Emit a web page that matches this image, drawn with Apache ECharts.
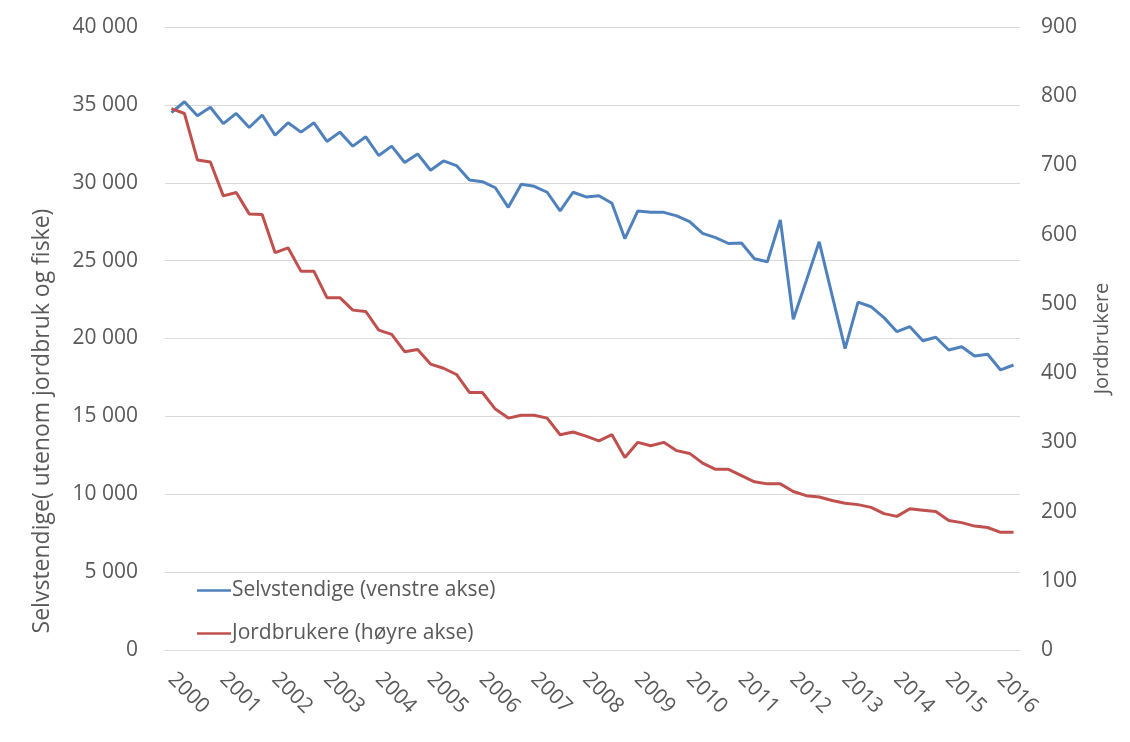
<!DOCTYPE html>
<html>
<head>
<meta charset="utf-8">
<style>
  html, body { margin: 0; padding: 0; background: #fff; }
  #chart { width: 1130px; height: 742px; }
</style>
<script src="https://cdn.jsdelivr.net/npm/echarts@6/dist/echarts.min.js"></script>
</head>
<body>
<div id="chart"></div>
<script>
// kvartalsvis 2000K1 - 2016K2
var years = [2000, 2001, 2002, 2003, 2004, 2005, 2006, 2007, 2008,
  2009, 2010, 2011, 2012, 2013, 2014, 2015, 2016];
var quarters = ["K1", "K2", "K3", "K4"];
var lastQuarter = "2016K2";

// Selvstendige (venstre akse)
var selvstendige = [
  34500, 35200, 34300, 34850, 33800, 34450, 33550, 34350, 33050, 33850,
  33250, 33850, 32650, 33250, 32350, 32950, 31750, 32350, 31300, 31850,
  30800, 31400, 31100, 30180, 30070, 29680, 28420, 29900, 29770, 29390,
  28190, 29390, 29090, 29170, 28680, 26410, 28190, 28100, 28100, 27870,
  27500, 26750, 26480, 26100, 26130, 25120, 24930, 27610, 21230, 23700,
  26210, 22750, 19350, 22340, 22040, 21340, 20440, 20760, 19860, 20080,
  19260, 19470, 18880, 18990, 17980, 18300
];

// Jordbrukere (høyre akse)
var jordbrukere = [
  782, 775, 708, 705, 656, 661, 630, 629, 574, 581,
  547, 547, 509, 509, 491, 489, 462, 456, 431, 434,
  413, 407, 398, 372, 372, 348, 335, 339, 339, 335,
  311, 315, 309, 302, 311, 278, 300, 295, 300, 288,
  284, 270, 261, 261, 252, 243, 240, 240, 229, 223,
  221, 216, 212, 210, 206, 197, 193, 204, 202, 200,
  187, 184, 179, 177, 170, 170
];

var categories = [];
years.forEach(function (y) {
  quarters.forEach(function (q) {
    if (categories.length && categories[categories.length - 1] === lastQuarter) return;
    categories.push(y + q);
  });
});

var textColor = "#595959";
var fontFamily = "'Open Sans', sans-serif";

var chart = echarts.init(document.getElementById("chart"));
chart.setOption({
  backgroundColor: "#ffffff",
  animation: false,
  textStyle: { fontFamily: fontFamily },
  grid: {
    left: 165,
    right: 110,
    top: 27,
    bottom: 92
  },
  legend: {
    orient: "vertical",
    left: 192,
    top: 575,
    itemWidth: 34,
    itemHeight: 14,
    itemGap: 22,
    icon: "path://M0,6 L34,6 L34,8.5 L0,8.5 Z",
    data: ["Selvstendige (venstre akse)", "Jordbrukere (høyre akse)"],
    textStyle: { color: textColor, fontSize: 21, padding: [0, 0, 0, -4] }
  },
  xAxis: {
    type: "category",
    data: categories,
    axisLine: { show: true, lineStyle: { color: "#d9d9d9", width: 1 } },
    axisTick: { show: false },
    axisLabel: {
      interval: 3,
      rotate: -45,
      margin: 26,
      color: textColor,
      fontSize: 21,
      formatter: function (v) { return v.slice(0, 4); }
    }
  },
  yAxis: [
    {
      type: "value",
      min: 0,
      max: 40000,
      interval: 5000,
      name: "Selvstendige( utenom jordbruk og fiske)",
      nameLocation: "middle",
      nameGap: 111,
      // tittelen står lavere enn midten i originalen
      nameTextStyle: { color: textColor, fontSize: 23, padding: [0, 165, 0, 0] },
      axisLine: { show: false },
      axisTick: { show: false },
      splitLine: { lineStyle: { color: "#d9d9d9", width: 1 } },
      axisLabel: {
        color: textColor,
        fontSize: 21,
        margin: 27,
        formatter: function (v) {
          return String(v).replace(/\B(?=(\d{3})+(?!\d))/g, " ");
        }
      }
    },
    {
      type: "value",
      min: 0,
      max: 900,
      interval: 100,
      name: "Jordbrukere",
      nameLocation: "middle",
      nameGap: 72,
      nameTextStyle: { color: textColor, fontSize: 20 },
      axisLine: { show: false },
      axisTick: { show: false },
      splitLine: { show: false },
      axisLabel: { color: textColor, fontSize: 21, margin: 21 }
    }
  ],
  series: [
    {
      name: "Selvstendige (venstre akse)",
      type: "line",
      yAxisIndex: 0,
      data: selvstendige,
      symbol: "none",
      lineStyle: { color: "#4F81BD", width: 3 },
      itemStyle: { color: "#4F81BD" }
    },
    {
      name: "Jordbrukere (høyre akse)",
      type: "line",
      yAxisIndex: 1,
      data: jordbrukere,
      symbol: "none",
      lineStyle: { color: "#C0504D", width: 3 },
      itemStyle: { color: "#C0504D" }
    }
  ]
});
</script>
</body>
</html>
